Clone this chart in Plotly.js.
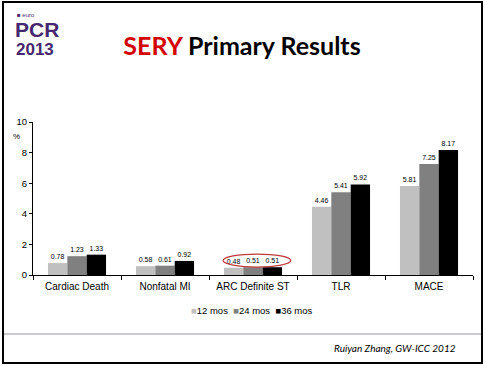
<!DOCTYPE html>
<html>
<head>
<meta charset="utf-8">
<script src="https://cdn.plot.ly/plotly-3.0.1.min.js"></script>
<style>
html,body{margin:0;padding:0;background:#fff;}
#chart{width:485px;height:366px;}
</style>
</head>
<body>
<div id="chart"></div>
<script>
var categories = ["Cardiac Death", "Nonfatal MI", "ARC Definite ST", "TLR", "MACE"];
var seriesNames = ["12 mos", "24 mos", "36 mos"];
var mos12 = [0.78, 0.58, 0.48, 4.46, 5.81];
var mos24 = [1.23, 0.61, 0.51, 5.41, 7.25];
var mos36 = [1.33, 0.92, 0.51, 5.92, 8.17];
var yTickVals = [0, 2, 4, 6, 8, 10];
var colors = ["#c0c0c0", "#808080", "#000000"];

var W = 485, H = 366, L = 33, R = 12, T = 122, B = 91;
var pw = W - L - R, ph = H - T - B;
function px(x){ return (x - L) / pw; }
function py(y){ return (H - B - y) / ph; }

var allSeries = [mos12, mos24, mos36];
var traces = allSeries.map(function(vals, i){
  return {
    type: "bar",
    name: seriesNames[i],
    x: categories,
    y: vals,
    marker: {color: colors[i]},
    text: vals.map(function(v){ return v.toFixed(2); }),
    textposition: "outside",
    cliponaxis: false,
    textfont: {family: "Liberation Sans, Arial, sans-serif", size: 7, color: "#000000"},
    hoverinfo: "none",
    showlegend: false
  };
});

var legendText = seriesNames.map(function(n, i){
  return "<span style='color:" + colors[i] + "'>■</span>" + n;
}).join("&nbsp;&nbsp;");

var layout = {
  width: W, height: H,
  margin: {l: L, r: R, t: T, b: B, pad: 0},
  paper_bgcolor: "#fff",
  plot_bgcolor: "#fff",
  barmode: "group",
  bargap: 0.34,
  bargroupgap: 0,
  font: {family: "Liberation Sans, Arial, sans-serif", size: 10, color: "#000"},
  title: {
    text: "<span style='color:#d40000'>SERY</span> Primary Results",
    font: {family: "Lato, Open Sans, sans-serif", size: 25, color: "#000", weight: "bold"},
    x: 242 / W, xanchor: "center", xref: "container",
    y: 1 - 46 / H, yanchor: "middle", yref: "container"
  },
  xaxis: {
    type: "category",
    showline: true, linecolor: "#000", linewidth: 1,
    ticks: "outside", ticklen: 4, tickcolor: "#000",
    tickson: "boundaries",
    ticklabelstandoff: 2,
    showgrid: false, zeroline: false,
    tickfont: {size: 10, color: "#000"},
    fixedrange: true
  },
  yaxis: {
    range: [0, 10],
    tickvals: yTickVals,
    ticktext: yTickVals.map(String),
    showline: true, linecolor: "#000", linewidth: 1,
    ticks: "outside", ticklen: 3, tickcolor: "#000",
    showgrid: false, zeroline: false,
    tickfont: {size: 9.5, color: "#000"},
    fixedrange: true
  },
  showlegend: false,
  shapes: [
    {type: "rect", xref: "paper", yref: "paper",
     x0: px(3), x1: px(482), y0: py(363), y1: py(2),
     line: {color: "#000", width: 2}, fillcolor: "rgba(0,0,0,0)", layer: "above"},
    {type: "line", xref: "paper", yref: "paper",
     x0: px(4), x1: px(481), y0: py(334), y1: py(334),
     line: {color: "#b8b8c0", width: 1.5}},
    {type: "circle", xref: "x", yref: "y",
     x0: 2 - 0.34, x1: 2 + 0.43, y0: 0.52, y1: 1.37,
     line: {color: "#c0393b", width: 1.2}, fillcolor: "rgba(0,0,0,0)"}
  ],
  annotations: [
    {text: "%", xref: "paper", yref: "paper", x: px(16), y: py(136),
     xanchor: "center", yanchor: "middle", showarrow: false,
     font: {size: 8, color: "#000"}},
    {text: "<b>■</b> euro", xref: "paper", yref: "paper", x: px(15), y: py(15),
     xanchor: "left", yanchor: "middle", showarrow: false,
     font: {family: "Liberation Sans, Arial, sans-serif", size: 6, color: "#46286e"}},
    {text: "<b>PCR</b>", xref: "paper", yref: "paper", x: px(13), y: py(30),
     xanchor: "left", yanchor: "middle", showarrow: false,
     font: {family: "Liberation Sans, Arial, sans-serif", size: 21, color: "#46286e"}},
    {text: "<b>2013</b>", xref: "paper", yref: "paper", x: px(14), y: py(50),
     xanchor: "left", yanchor: "middle", showarrow: false,
     font: {family: "Liberation Sans, Arial, sans-serif", size: 17, color: "#46286e"}},
    {text: legendText, xref: "paper", yref: "paper", x: px(252), y: py(310),
     xanchor: "center", yanchor: "middle", showarrow: false,
     font: {family: "Liberation Sans, Arial, sans-serif", size: 9.5, color: "#000"}},
    {text: "<i>Ruiyan Zhang, GW-ICC 2012</i>", xref: "paper", yref: "paper", x: px(458), y: py(348),
     xanchor: "right", yanchor: "middle", showarrow: false,
     font: {family: "Lato, Liberation Sans, sans-serif", size: 10, color: "#000"}}
  ]
};

Plotly.newPlot("chart", traces, layout, {displayModeBar: false, staticPlot: true});
</script>
</body>
</html>
